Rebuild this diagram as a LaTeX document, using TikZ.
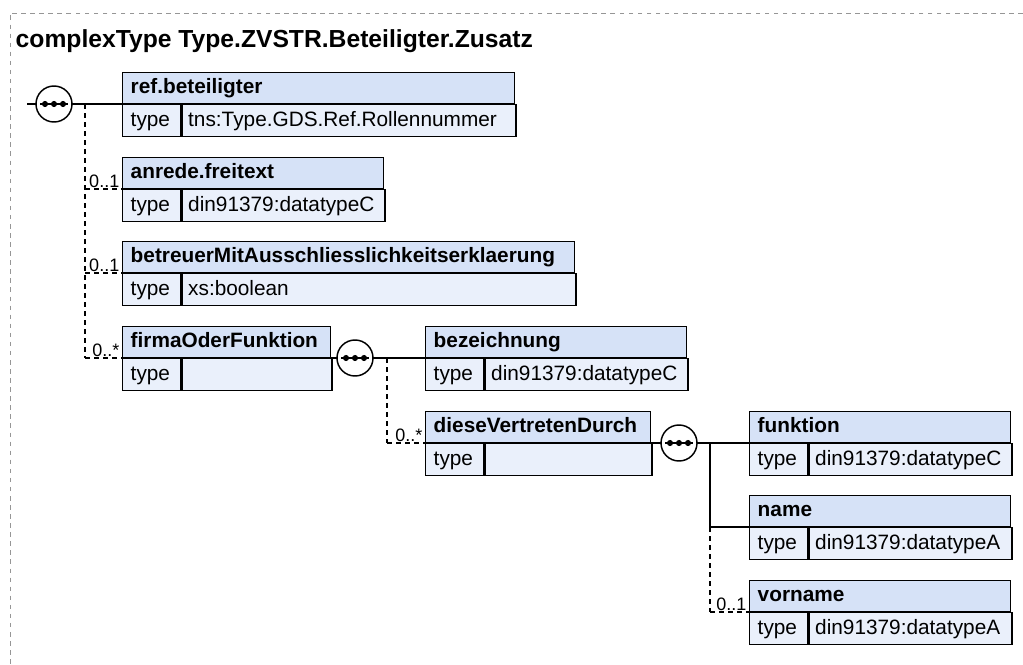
\documentclass[tikz,border=0pt]{standalone}
\usepackage{fontspec}
\setmainfont{Liberation Sans}
\usetikzlibrary{calc}
\definecolor{headblue}{RGB}{214,226,247}
\definecolor{typeblue}{RGB}{234,240,251}
\definecolor{framegray}{RGB}{150,150,150}

\begin{document}
\begin{tikzpicture}[x=0.75pt, y=-0.75pt, line width=1.1pt,
	every node/.style={font=\fontsize{15.6}{18}\selectfont, inner sep=0pt},
	head/.style={draw, fill=headblue, font=\fontsize{15.6}{18}\selectfont\bfseries, text height=11.5pt, text depth=3.5pt, minimum height=23.25pt, inner xsep=6pt, align=left, anchor=south west},
	key/.style={draw, fill=typeblue, text height=11.5pt, text depth=3.5pt, minimum height=24pt, text width=31.5pt, inner xsep=6pt, align=left, anchor=north west},
	val/.style={draw, fill=typeblue, text height=11.5pt, text depth=3.5pt, minimum height=24pt, inner xsep=4.5pt, align=left, anchor=north west},
	seq/.style={draw, circle, fill=white, minimum size=27pt},
	opt/.style={dash pattern=on 3.75pt off 3pt},
	mult/.style={font=\fontsize{13.5}{15}\selectfont, anchor=base east}]
	\useasboundingbox (0,0) rectangle (1023,664);
	\draw[framegray, line width=0.75pt, dash pattern=on 3.4pt off 3.4pt] (1023,13) -- (10,13) -- (10,664);
	\node[anchor=base west, font=\fontsize{18.5}{22}\selectfont\bfseries] (title) at (15,47) {complexType Type.ZVSTR.Beteiligter.Zusatz};

	% sequence compositors and junctions
	\coordinate (in) at (27,104);
	\coordinate (j1) at (85,104);
	\coordinate (j2) at (387,358);
	\coordinate (j3) at (710,443);
	\draw (in) -- (j1) -- (122,104);
	\draw (330,358) -- (425,358);
	\draw (650,443) -- (749,443);
	\draw[opt] (j1) -- (j1 |- 0,358);
	\draw[opt] (j2) -- (j2 |- 0,443);
	\draw (j3) -- (j3 |- 0,527);
	\draw[opt] (j3 |- 0,527) -- (j3 |- 0,612);

	% elements
	\foreach \n/\x/\y/\w/\h/\t in {ref/122/104/392/ref.beteiligter/tns:Type.GDS.Ref.Rollennummer,
		anrede/122/189/261/anrede.freitext/din91379:datatypeC,
		betreuer/122/273/452/betreuerMitAusschliesslichkeitserklaerung/xs:boolean,
		firma/122/358/208/firmaOderFunktion/,
		bez/425/358/261/bezeichnung/din91379:datatypeC,
		diese/425/443/225/dieseVertretenDurch/,
		funk/749/443/261/funktion/din91379:datatypeC,
		name/749/527/261/name/din91379:datatypeA,
		vorname/749/612/261/vorname/din91379:datatypeA}
	{
		\node[head, text width=(\w-16)*0.75pt] (\n) at (\x,\y) {\h};
		\node[key] (\n-k) at (\n.south west) {type};
		\node[val, text width=(\w-70)*0.75pt] (\n-v) at (\n-k.north east) {\t};
	}
	\foreach \s/\x/\y in {s1/54/104, s2/355/358, s3/679/443}
	{
		\node[seq] (\s) at (\x,\y) {};
		\draw ($(\s)+(-14,0)$) -- ($(\s)+(14,0)$);
		\foreach \d in {-9,0,9} \fill ($(\s)+(\d,0)$) circle (2.3pt);
	}

	% optional branches
	\draw[opt] (j1 |- anrede.south west) -- (anrede.south west);
	\draw[opt] (j1 |- betreuer.south west) -- (betreuer.south west);
	\draw[opt] (j1 |- firma.south west) -- (firma.south west);
	\draw[opt] (j2 |- diese.south west) -- (diese.south west);
	\draw (j3 |- name.south west) -- (name.south west);
	\draw[opt] (j3 |- vorname.south west) -- (vorname.south west);
	\node[mult] (m-anrede) at ($(anrede.south west)+(-2,-2)$) {0..1};
	\node[mult] (m-betreuer) at ($(betreuer.south west)+(-2,-2)$) {0..1};
	\node[mult] (m-firma) at ($(firma.south west)+(-2,-2)$) {0..*};
	\node[mult] (m-diese) at ($(diese.south west)+(-2,-2)$) {0..*};
	\node[mult] (m-vorname) at ($(vorname.south west)+(-2,-2)$) {0..1};
\end{tikzpicture}
\end{document}
